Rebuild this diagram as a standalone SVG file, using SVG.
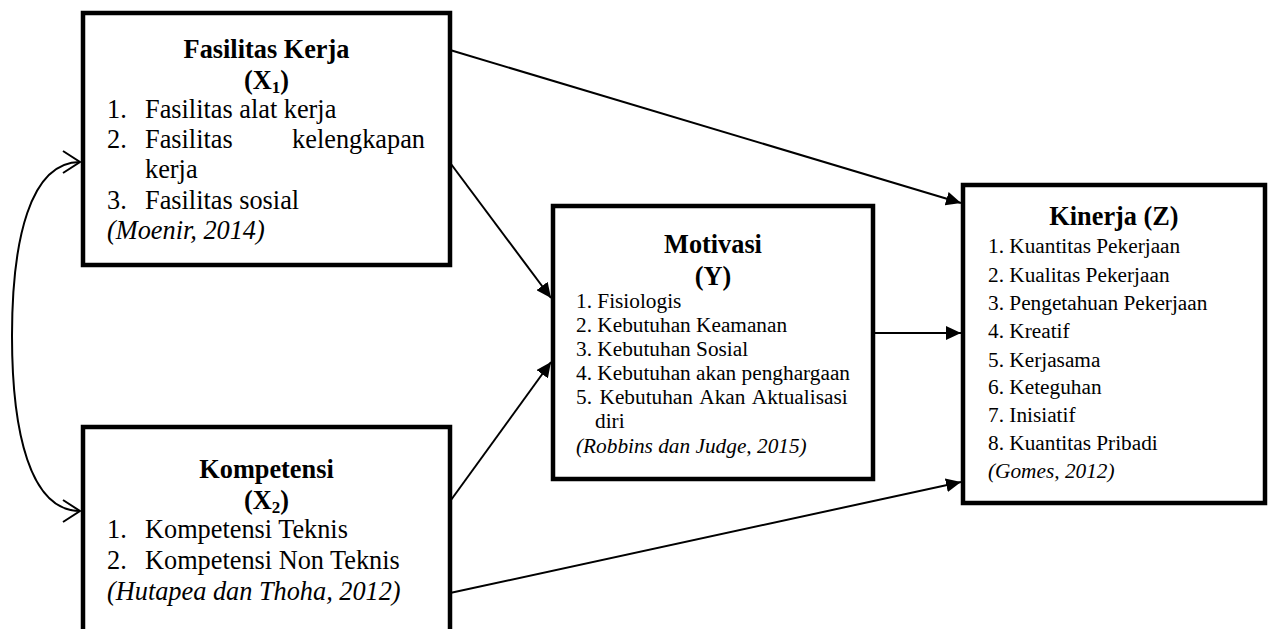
<svg xmlns="http://www.w3.org/2000/svg" width="1268" height="629" viewBox="0 0 1268 629">
  <style>
    text { font-family: "Liberation Serif", "Times New Roman", serif; fill: #000; }
    .box { fill: #fff; stroke: #000; stroke-width: 4.5; }
    .big { font-size: 26.3px; }
    .small { font-size: 21.3px; }
    .title { font-weight: bold; text-anchor: middle; }
    .cite { font-style: italic; }
    .conn { fill: none; stroke: #000; stroke-width: 2; }
  </style>
  <defs>
    <marker id="solid" markerUnits="userSpaceOnUse" markerWidth="16" markerHeight="14" refX="15" refY="7" orient="auto">
      <path d="M0,0 L15,7 L0,14 z" fill="#000"/>
    </marker>
    <marker id="open" markerUnits="userSpaceOnUse" markerWidth="22" markerHeight="26" refX="19" refY="13" orient="auto-start-reverse">
      <path d="M2,2 L19,13 L2,24" fill="none" stroke="#000" stroke-width="2"/>
    </marker>
  </defs>

  <!-- Connectors -->
  <g id="connectors">
    <path class="conn" d="M80,162 C30,162 12,240 12,336 C12,432 30,511 80,511" marker-start="url(#open)" marker-end="url(#open)"/>
    <line class="conn" x1="450" y1="50" x2="961" y2="203" marker-end="url(#solid)"/>
    <line class="conn" x1="451" y1="164" x2="551" y2="298" marker-end="url(#solid)"/>
    <line class="conn" x1="451" y1="500" x2="551" y2="362" marker-end="url(#solid)"/>
    <line class="conn" x1="873" y1="333" x2="961" y2="333" marker-end="url(#solid)"/>
    <line class="conn" x1="450" y1="593" x2="961" y2="482" marker-end="url(#solid)"/>
  </g>

  <!-- Fasilitas Kerja (X1) -->
  <g id="node-x1">
    <rect class="box" x="83" y="13" width="367" height="252"/>
    <text class="big title" x="266.5" y="58">Fasilitas Kerja</text>
    <text class="big title" x="266.5" y="89">(X<tspan font-size="17" dy="4">1</tspan><tspan dy="-4">)</tspan></text>
    <text class="big" y="118"><tspan x="107">1.</tspan><tspan x="145">Fasilitas alat kerja</tspan></text>
    <text class="big" y="148"><tspan x="107">2.</tspan><tspan x="145">Fasilitas</tspan><tspan x="425" text-anchor="end">kelengkapan</tspan></text>
    <text class="big" x="145" y="178">kerja</text>
    <text class="big" y="209"><tspan x="107">3.</tspan><tspan x="145">Fasilitas sosial</tspan></text>
    <text class="big cite" x="107" y="239">(Moenir, 2014)</text>
  </g>

  <!-- Kompetensi (X2) -->
  <g id="node-x2">
    <rect class="box" x="83" y="427" width="367" height="220"/>
    <text class="big title" x="266.5" y="478">Kompetensi</text>
    <text class="big title" x="266.5" y="509">(X<tspan font-size="17" dy="4">2</tspan><tspan dy="-4">)</tspan></text>
    <text class="big" y="538"><tspan x="107">1.</tspan><tspan x="145">Kompetensi Teknis</tspan></text>
    <text class="big" y="569"><tspan x="107">2.</tspan><tspan x="145">Kompetensi Non Teknis</tspan></text>
    <text class="big cite" x="107" y="600">(Hutapea dan Thoha, 2012)</text>
  </g>

  <!-- Motivasi (Y) -->
  <g id="node-y">
    <rect class="box" x="553" y="206" width="320" height="273"/>
    <text class="big title" x="713" y="253">Motivasi</text>
    <text class="big title" x="713" y="285">(Y)</text>
    <text class="small" x="576" y="308">1. Fisiologis</text>
    <text class="small" x="576" y="332">2. Kebutuhan Keamanan</text>
    <text class="small" x="576" y="356">3. Kebutuhan Sosial</text>
    <text class="small" x="576" y="380">4. Kebutuhan akan penghargaan</text>
    <text class="small" x="576" y="404" word-spacing="2.2">5. Kebutuhan Akan Aktualisasi</text>
    <text class="small" x="595" y="428">diri</text>
    <text class="small cite" x="576" y="453">(Robbins dan Judge, 2015)</text>
  </g>

  <!-- Kinerja (Z) -->
  <g id="node-z">
    <rect class="box" x="963" y="185" width="302" height="318"/>
    <text class="big title" x="1114" y="225">Kinerja (Z)</text>
    <text class="small" x="988" y="253">1. Kuantitas Pekerjaan</text>
    <text class="small" x="988" y="282">2. Kualitas Pekerjaan</text>
    <text class="small" x="988" y="310">3. Pengetahuan Pekerjaan</text>
    <text class="small" x="988" y="338">4. Kreatif</text>
    <text class="small" x="988" y="367">5. Kerjasama</text>
    <text class="small" x="988" y="394">6. Keteguhan</text>
    <text class="small" x="988" y="422">7. Inisiatif</text>
    <text class="small" x="988" y="450">8. Kuantitas Pribadi</text>
    <text class="small cite" x="988" y="478">(Gomes, 2012)</text>
  </g>
</svg>
